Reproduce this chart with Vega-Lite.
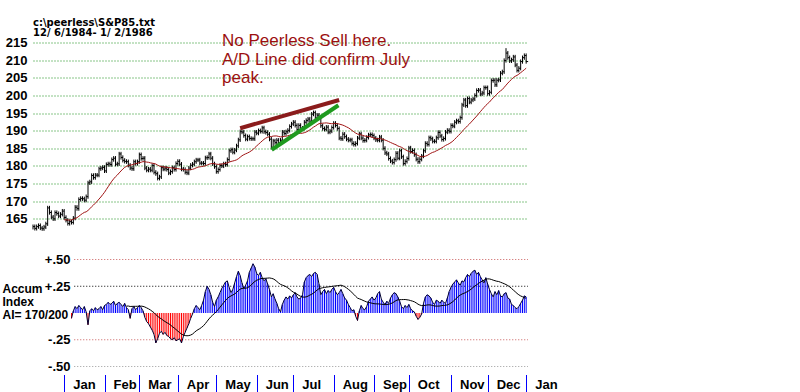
{"$schema":"https://vega.github.io/schema/vega-lite/v6.json","background":"white","padding":{"left":2,"top":17.5,"right":0,"bottom":0},"spacing":23,"bounds":"flush",
"config":{"view":{"stroke":null},"font":"Liberation Sans","axis":{"labelFont":"Liberation Sans","labelFontWeight":"bold","labelFontSize":13,"labelColor":"#000","titleFont":"Liberation Sans"}},
"datasets":{
"d":[{"i":0,"h":163.4,"l":162.0,"c":162.8},{"i":1,"h":163.4,"l":161.7,"c":162.3},{"i":2,"h":163.4,"l":161.7,"c":162.8},{"i":3,"h":163.7,"l":162.2,"c":163.1},{"i":4,"h":163.7,"l":161.8,"c":162.4},{"i":5,"h":163.0,"l":161.6,"c":162.2},{"i":6,"h":163.3,"l":161.6,"c":162.7},{"i":7,"h":164.2,"l":162.1,"c":163.6},{"i":8,"h":168.7,"l":163.0,"c":168.1},{"i":9,"h":168.7,"l":166.2,"c":166.8},{"i":10,"h":167.4,"l":164.9,"c":165.5},{"i":11,"h":166.1,"l":164.4,"c":165.0},{"i":12,"h":167.4,"l":164.4,"c":166.8},{"i":13,"h":167.4,"l":165.9,"c":166.5},{"i":14,"h":167.1,"l":165.2,"c":165.8},{"i":15,"h":166.9,"l":165.2,"c":166.3},{"i":16,"h":167.8,"l":165.7,"c":167.2},{"i":17,"h":167.8,"l":164.8,"c":165.4},{"i":18,"h":166.0,"l":164.0,"c":164.6},{"i":19,"h":165.2,"l":163.1,"c":163.7},{"i":20,"h":164.8,"l":163.1,"c":164.2},
{"i":21,"h":164.8,"l":163.4,"c":164.0,"a":-0.05},{"i":22,"h":165.8,"l":163.4,"c":165.2,"a":0.02},{"i":23,"h":168.9,"l":164.6,"c":168.3,"a":0.06},{"i":24,"h":168.9,"l":167.3,"c":167.9,"a":0.04},{"i":25,"h":171.1,"l":167.3,"c":170.5,"a":0.07},{"i":26,"h":171.4,"l":169.9,"c":170.8,"a":0.05},{"i":27,"h":171.4,"l":170.1,"c":170.7,"a":0.03},{"i":28,"h":171.3,"l":169.7,"c":170.3,"a":0.06},{"i":29,"h":171.9,"l":169.7,"c":171.3,"a":0.01},{"i":30,"h":175.8,"l":170.7,"c":175.2,"a":-0.11},
{"i":31,"h":176.1,"l":174.6,"c":175.5,"a":0.02},{"i":32,"h":177.9,"l":174.9,"c":177.3,"a":0.04},{"i":33,"h":177.9,"l":176.1,"c":176.7,"a":0.02},{"i":34,"h":178.0,"l":176.1,"c":177.4,"a":0.05},{"i":35,"h":178.0,"l":176.8,"c":177.4,"a":0.03},{"i":36,"h":179.8,"l":176.8,"c":179.2,"a":0.04},{"i":37,"h":180.0,"l":178.6,"c":179.4,"a":0.06},{"i":38,"h":180.2,"l":178.8,"c":179.6,"a":0.03},{"i":39,"h":180.2,"l":178.0,"c":178.6,"a":0.07},{"i":40,"h":181.0,"l":178.0,"c":180.4,"a":0.08},
{"i":41,"h":181.2,"l":179.8,"c":180.6,"a":0.10},{"i":42,"h":181.2,"l":179.8,"c":180.4,"a":0.08},{"i":43,"h":182.4,"l":179.8,"c":181.8,"a":0.09},{"i":44,"h":182.8,"l":181.2,"c":182.2,"a":0.11},{"i":45,"h":182.8,"l":179.9,"c":180.5,"a":0.07},{"i":46,"h":181.2,"l":179.9,"c":180.6,"a":0.09},{"i":47,"h":184.0,"l":180.0,"c":183.4,"a":0.10},{"i":48,"h":184.0,"l":181.8,"c":182.4,"a":0.08},{"i":49,"h":183.0,"l":181.0,"c":181.6,"a":0.06},{"i":50,"h":182.2,"l":180.7,"c":181.3,"a":0.09},
{"i":51,"h":181.9,"l":180.6,"c":181.2,"a":0.05},{"i":52,"h":181.8,"l":179.6,"c":180.2,"a":0.03},{"i":53,"h":180.8,"l":178.8,"c":179.4,"a":-0.05},{"i":54,"h":180.0,"l":178.6,"c":179.2,"a":0.04},{"i":55,"h":181.8,"l":178.6,"c":181.2,"a":0.06},{"i":56,"h":181.8,"l":180.1,"c":180.7,"a":0.03},{"i":57,"h":181.8,"l":180.1,"c":181.2,"a":0.05},{"i":58,"h":183.8,"l":180.6,"c":183.2,"a":0.07},{"i":59,"h":183.8,"l":181.5,"c":182.1,"a":0.05},{"i":60,"h":182.8,"l":181.5,"c":182.2,"a":0.02},
{"i":61,"h":182.8,"l":178.8,"c":179.4,"a":-0.04},{"i":62,"h":180.0,"l":178.2,"c":178.8,"a":-0.08},{"i":63,"h":179.7,"l":178.2,"c":179.1,"a":-0.10},{"i":64,"h":179.7,"l":178.2,"c":178.8,"a":-0.13},{"i":65,"h":180.7,"l":178.2,"c":180.1,"a":-0.16},{"i":66,"h":180.7,"l":177.6,"c":178.2,"a":-0.20},{"i":67,"h":178.8,"l":177.2,"c":177.8,"a":-0.28},{"i":68,"h":178.4,"l":175.9,"c":176.5,"a":-0.24},{"i":69,"h":177.5,"l":175.9,"c":176.9,"a":-0.19},{"i":70,"h":180.1,"l":176.3,"c":179.5,"a":-0.17},
{"i":71,"h":180.1,"l":178.5,"c":179.1,"a":-0.20},{"i":72,"h":180.0,"l":178.5,"c":179.4,"a":-0.18},{"i":73,"h":180.0,"l":178.4,"c":179.0,"a":-0.21},{"i":74,"h":179.6,"l":177.4,"c":178.0,"a":-0.22},{"i":75,"h":179.0,"l":177.4,"c":178.4,"a":-0.24},{"i":76,"h":180.1,"l":177.8,"c":179.5,"a":-0.25},{"i":77,"h":180.1,"l":178.4,"c":179.0,"a":-0.23},{"i":78,"h":181.3,"l":178.4,"c":180.7,"a":-0.26},{"i":79,"h":181.9,"l":180.1,"c":181.3,"a":-0.25},{"i":80,"h":181.9,"l":179.9,"c":180.5,"a":-0.24},
{"i":81,"h":181.1,"l":178.5,"c":179.1,"a":-0.28},{"i":82,"h":179.7,"l":178.4,"c":179.0,"a":-0.22},{"i":83,"h":179.6,"l":177.6,"c":178.2,"a":-0.18},{"i":84,"h":178.8,"l":177.4,"c":178.0,"a":-0.14},{"i":85,"h":180.0,"l":177.4,"c":179.4,"a":-0.10},{"i":86,"h":180.8,"l":178.8,"c":180.2,"a":-0.05},{"i":87,"h":181.1,"l":179.6,"c":180.5,"a":-0.01},{"i":88,"h":181.8,"l":179.9,"c":181.2,"a":0.04},{"i":89,"h":182.3,"l":180.6,"c":181.7,"a":0.07},{"i":90,"h":182.3,"l":181.1,"c":181.7,"a":0.05},
{"i":91,"h":182.3,"l":180.2,"c":180.8,"a":0.03},{"i":92,"h":181.4,"l":180.2,"c":180.8,"a":0.07},{"i":93,"h":181.4,"l":180.1,"c":180.7,"a":0.12},{"i":94,"h":182.9,"l":180.1,"c":182.3,"a":0.20},{"i":95,"h":183.0,"l":181.7,"c":182.4,"a":0.25},{"i":96,"h":184.0,"l":181.8,"c":183.4,"a":0.22},{"i":97,"h":184.0,"l":181.6,"c":182.2,"a":0.17},{"i":98,"h":182.8,"l":180.0,"c":180.6,"a":0.10},{"i":99,"h":181.2,"l":179.2,"c":179.8,"a":0.06},{"i":100,"h":180.4,"l":177.8,"c":178.4,"a":0.12},
{"i":101,"h":179.6,"l":177.8,"c":179.0,"a":0.15},{"i":102,"h":180.7,"l":178.4,"c":180.1,"a":0.19},{"i":103,"h":180.7,"l":179.4,"c":180.0,"a":0.23},{"i":104,"h":181.2,"l":179.4,"c":180.6,"a":0.26},{"i":105,"h":181.2,"l":179.8,"c":180.4,"a":0.29},{"i":106,"h":182.4,"l":179.8,"c":181.8,"a":0.30},{"i":107,"h":184.9,"l":181.2,"c":184.3,"a":0.24},{"i":108,"h":185.2,"l":183.7,"c":184.6,"a":0.19},{"i":109,"h":185.2,"l":183.3,"c":183.9,"a":0.22},{"i":110,"h":185.1,"l":183.3,"c":184.5,"a":0.28},
{"i":111,"h":186.3,"l":183.9,"c":185.7,"a":0.34},{"i":112,"h":188.0,"l":185.1,"c":187.4,"a":0.39},{"i":113,"h":190.3,"l":186.8,"c":189.7,"a":0.35},{"i":114,"h":190.3,"l":189.0,"c":189.6,"a":0.28},{"i":115,"h":190.2,"l":188.0,"c":188.6,"a":0.23},{"i":116,"h":189.2,"l":187.0,"c":187.6,"a":0.26},{"i":117,"h":188.9,"l":187.0,"c":188.3,"a":0.30},{"i":118,"h":188.9,"l":187.2,"c":187.8,"a":0.38},{"i":119,"h":188.4,"l":187.1,"c":187.7,"a":0.42},{"i":120,"h":188.3,"l":187.1,"c":187.7,"a":0.46},
{"i":121,"h":190.2,"l":187.1,"c":189.6,"a":0.43},{"i":122,"h":190.2,"l":188.7,"c":189.3,"a":0.37},{"i":123,"h":190.6,"l":188.7,"c":190.0,"a":0.35},{"i":124,"h":190.6,"l":189.2,"c":189.8,"a":0.38},{"i":125,"h":191.4,"l":189.2,"c":190.8,"a":0.33},{"i":126,"h":191.4,"l":189.1,"c":189.7,"a":0.30},{"i":127,"h":190.3,"l":188.9,"c":189.5,"a":0.32},{"i":128,"h":190.1,"l":188.4,"c":189.0,"a":0.27},{"i":129,"h":189.6,"l":187.0,"c":187.6,"a":0.22},{"i":130,"h":188.2,"l":184.7,"c":185.3,"a":0.15},
{"i":131,"h":187.7,"l":184.7,"c":187.1,"a":0.18},{"i":132,"h":187.7,"l":186.0,"c":186.6,"a":0.13},{"i":133,"h":187.9,"l":186.0,"c":187.3,"a":0.09},{"i":134,"h":187.9,"l":186.0,"c":186.6,"a":0.04},{"i":135,"h":187.9,"l":186.0,"c":187.3,"a":0.01},{"i":136,"h":190.2,"l":186.7,"c":189.6,"a":0.08},{"i":137,"h":190.2,"l":188.6,"c":189.2,"a":0.12},{"i":138,"h":190.3,"l":188.6,"c":189.7,"a":0.15},{"i":139,"h":190.7,"l":189.1,"c":190.1,"a":0.13},{"i":140,"h":191.8,"l":189.5,"c":191.2,"a":0.16},
{"i":141,"h":192.5,"l":190.6,"c":191.9,"a":0.14},{"i":142,"h":193.0,"l":191.3,"c":192.4,"a":0.17},{"i":143,"h":193.0,"l":190.9,"c":191.5,"a":0.19},{"i":144,"h":192.1,"l":189.7,"c":190.3,"a":0.15},{"i":145,"h":192.1,"l":189.7,"c":191.5,"a":0.13},{"i":146,"h":192.1,"l":190.1,"c":190.7,"a":0.14},{"i":147,"h":191.3,"l":190.1,"c":190.7,"a":0.17},{"i":148,"h":193.0,"l":190.1,"c":192.4,"a":0.29},{"i":149,"h":193.5,"l":191.8,"c":192.9,"a":0.33},{"i":150,"h":193.9,"l":192.3,"c":193.3,"a":0.35},
{"i":151,"h":193.9,"l":192.1,"c":192.7,"a":0.36},{"i":152,"h":195.3,"l":192.1,"c":194.7,"a":0.34},{"i":153,"h":195.7,"l":194.1,"c":195.1,"a":0.37},{"i":154,"h":195.7,"l":193.0,"c":193.6,"a":0.38},{"i":155,"h":195.0,"l":193.0,"c":194.4,"a":0.36},{"i":156,"h":195.0,"l":193.1,"c":193.7,"a":0.27},{"i":157,"h":194.3,"l":190.8,"c":191.4,"a":0.17},{"i":158,"h":192.0,"l":190.0,"c":190.6,"a":0.20},{"i":159,"h":191.2,"l":189.8,"c":190.4,"a":0.22},{"i":160,"h":191.6,"l":189.8,"c":191.0,"a":0.18},
{"i":161,"h":191.6,"l":189.0,"c":189.6,"a":0.21},{"i":162,"h":190.5,"l":189.0,"c":189.9,"a":0.19},{"i":163,"h":191.5,"l":189.3,"c":190.9,"a":0.22},{"i":164,"h":192.7,"l":190.3,"c":192.1,"a":0.24},{"i":165,"h":192.7,"l":190.9,"c":191.5,"a":0.20},{"i":166,"h":192.1,"l":190.0,"c":190.6,"a":0.17},{"i":167,"h":191.2,"l":187.3,"c":187.9,"a":0.19},{"i":168,"h":188.5,"l":187.1,"c":187.7,"a":0.22},{"i":169,"h":189.6,"l":187.1,"c":189.0,"a":0.18},{"i":170,"h":189.6,"l":187.7,"c":188.3,"a":0.14},
{"i":171,"h":188.9,"l":187.0,"c":187.6,"a":0.12},{"i":172,"h":188.2,"l":186.7,"c":187.3,"a":0.08},{"i":173,"h":188.0,"l":186.7,"c":187.4,"a":0.05},{"i":174,"h":188.0,"l":185.8,"c":186.4,"a":0.02},{"i":175,"h":187.0,"l":185.5,"c":186.1,"a":0.03},{"i":176,"h":187.0,"l":185.5,"c":186.4,"a":-0.03},{"i":177,"h":188.5,"l":185.8,"c":187.9,"a":-0.07},{"i":178,"h":189.7,"l":187.3,"c":189.1,"a":0.02},{"i":179,"h":189.7,"l":187.3,"c":187.9,"a":0.07},{"i":180,"h":188.5,"l":186.6,"c":187.2,"a":0.04},
{"i":181,"h":187.9,"l":186.6,"c":187.3,"a":0.03},{"i":182,"h":188.7,"l":186.7,"c":188.1,"a":0.06},{"i":183,"h":189.4,"l":187.5,"c":188.8,"a":0.11},{"i":184,"h":189.5,"l":188.2,"c":188.9,"a":0.13},{"i":185,"h":189.5,"l":188.0,"c":188.6,"a":0.15},{"i":186,"h":189.2,"l":187.3,"c":187.9,"a":0.12},{"i":187,"h":188.5,"l":186.8,"c":187.4,"a":0.14},{"i":188,"h":188.0,"l":186.7,"c":187.3,"a":0.18},{"i":189,"h":188.8,"l":186.7,"c":188.2,"a":0.20},{"i":190,"h":188.8,"l":186.7,"c":187.3,"a":0.13},
{"i":191,"h":187.9,"l":184.4,"c":185.0,"a":0.10},{"i":192,"h":185.6,"l":183.1,"c":183.7,"a":0.08},{"i":193,"h":184.3,"l":182.8,"c":183.4,"a":0.11},{"i":194,"h":184.0,"l":181.5,"c":182.1,"a":0.09},{"i":195,"h":182.7,"l":180.8,"c":181.4,"a":0.14},{"i":196,"h":182.0,"l":180.4,"c":181.0,"a":0.17},{"i":197,"h":182.4,"l":180.4,"c":181.8,"a":0.19},{"i":198,"h":184.2,"l":181.2,"c":183.6,"a":0.18},{"i":199,"h":184.2,"l":181.6,"c":182.2,"a":0.15},{"i":200,"h":184.9,"l":181.6,"c":184.3,"a":0.11},
{"i":201,"h":184.9,"l":182.0,"c":182.6,"a":0.06},{"i":202,"h":183.2,"l":180.1,"c":180.7,"a":0.04},{"i":203,"h":181.9,"l":180.1,"c":181.3,"a":0.07},{"i":204,"h":182.7,"l":180.7,"c":182.1,"a":0.05},{"i":205,"h":185.7,"l":181.5,"c":185.1,"a":0.08},{"i":206,"h":185.7,"l":183.5,"c":184.1,"a":0.04},{"i":207,"h":185.0,"l":183.5,"c":184.4,"a":0.02},{"i":208,"h":185.0,"l":182.6,"c":183.2,"a":0.01},{"i":209,"h":183.8,"l":181.3,"c":181.9,"a":-0.03},{"i":210,"h":182.5,"l":180.6,"c":181.2,"a":-0.06},
{"i":211,"h":182.5,"l":180.6,"c":181.9,"a":-0.04},{"i":212,"h":183.4,"l":181.3,"c":182.8,"a":-0.01},{"i":213,"h":184.9,"l":182.2,"c":184.3,"a":0.09},{"i":214,"h":187.0,"l":183.7,"c":186.4,"a":0.15},{"i":215,"h":187.0,"l":185.5,"c":186.1,"a":0.17},{"i":216,"h":188.6,"l":185.5,"c":188.0,"a":0.16},{"i":217,"h":188.6,"l":187.1,"c":187.7,"a":0.14},{"i":218,"h":188.3,"l":186.4,"c":187.0,"a":0.10},{"i":219,"h":187.6,"l":186.4,"c":187.0,"a":0.08},{"i":220,"h":188.6,"l":186.4,"c":188.0,"a":0.12},
{"i":221,"h":190.1,"l":187.4,"c":189.5,"a":0.11},{"i":222,"h":190.1,"l":187.9,"c":188.5,"a":0.09},{"i":223,"h":189.1,"l":186.9,"c":187.5,"a":0.12},{"i":224,"h":188.4,"l":186.9,"c":187.8,"a":0.10},{"i":225,"h":190.2,"l":187.2,"c":189.6,"a":0.09},{"i":226,"h":190.7,"l":189.0,"c":190.1,"a":0.14},{"i":227,"h":190.7,"l":189.2,"c":189.8,"a":0.20},{"i":228,"h":192.1,"l":189.2,"c":191.5,"a":0.24},{"i":229,"h":192.1,"l":190.7,"c":191.3,"a":0.27},{"i":230,"h":193.0,"l":190.7,"c":192.4,"a":0.29},
{"i":231,"h":193.4,"l":191.8,"c":192.8,"a":0.31},{"i":232,"h":193.4,"l":192.0,"c":192.6,"a":0.28},{"i":233,"h":194.3,"l":192.0,"c":193.7,"a":0.26},{"i":234,"h":197.9,"l":193.1,"c":197.3,"a":0.30},{"i":235,"h":199.3,"l":196.7,"c":198.7,"a":0.29},{"i":236,"h":199.3,"l":196.5,"c":197.1,"a":0.33},{"i":237,"h":199.7,"l":196.5,"c":199.1,"a":0.36},{"i":238,"h":199.7,"l":197.5,"c":198.1,"a":0.34},{"i":239,"h":199.3,"l":197.5,"c":198.7,"a":0.37},{"i":240,"h":199.6,"l":198.1,"c":199.0,"a":0.39},
{"i":241,"h":200.6,"l":198.4,"c":200.0,"a":0.40},{"i":242,"h":202.0,"l":199.4,"c":201.4,"a":0.36},{"i":243,"h":202.1,"l":200.8,"c":201.5,"a":0.38},{"i":244,"h":202.1,"l":199.8,"c":200.4,"a":0.34},{"i":245,"h":201.3,"l":199.8,"c":200.7,"a":0.31},{"i":246,"h":202.8,"l":200.1,"c":202.2,"a":0.28},{"i":247,"h":202.8,"l":201.6,"c":202.2,"a":0.33},{"i":248,"h":202.8,"l":199.9,"c":200.5,"a":0.27},{"i":249,"h":201.5,"l":199.9,"c":200.9,"a":0.22},{"i":250,"h":204.8,"l":200.3,"c":204.2,"a":0.18},
{"i":251,"h":204.9,"l":203.6,"c":204.3,"a":0.15},{"i":252,"h":204.9,"l":202.4,"c":203.0,"a":0.20},{"i":253,"h":204.9,"l":202.4,"c":204.3,"a":0.17},{"i":254,"h":205.0,"l":203.7,"c":204.4,"a":0.21},{"i":255,"h":206.9,"l":203.8,"c":206.3,"a":0.16},{"i":256,"h":207.3,"l":205.7,"c":206.7,"a":0.15},{"i":257,"h":210.5,"l":206.1,"c":209.9,"a":0.18},{"i":258,"h":213.4,"l":209.3,"c":212.0,"a":0.19},{"i":259,"h":212.6,"l":210.1,"c":210.7,"a":0.14},{"i":260,"h":211.3,"l":209.2,"c":209.8,"a":0.13},
{"i":261,"h":210.7,"l":209.2,"c":210.1,"a":0.08},{"i":262,"h":211.5,"l":209.5,"c":210.9,"a":0.07},{"i":263,"h":211.5,"l":208.0,"c":208.6,"a":0.05},{"i":264,"h":209.2,"l":206.5,"c":207.1,"a":0.04},{"i":265,"h":208.3,"l":206.5,"c":207.7,"a":0.06},{"i":266,"h":210.2,"l":207.1,"c":209.6,"a":0.09},{"i":267,"h":211.3,"l":209.0,"c":210.7,"a":0.12},{"i":268,"h":211.9,"l":210.1,"c":211.3,"a":0.16},{"i":269,"h":211.9,"l":209.0,"c":209.6,"a":0.15}],
"lines":[{"k":"ad","i":113,"p":190.7},{"k":"ad","i":167,"p":198.7},{"k":"tr","i":130.2,"p":184.6},{"k":"tr","i":166.6,"p":197.2}],
"notes":[{"t":["No Peerless Sell here.","A/D Line did confirm July","peak."],"i":103.1,"p":214.0}],
"head":[{"t":"c:\\peerless\\S&P85.txt","i":0,"p":219.6},{"t":"\u00a012/ 6/1984- 1/ 2/1986","i":0,"p":216.9}],
"agrid":[{"v":0.5,"k":"r"},{"v":0.25,"k":"b"},{"v":-0.25,"k":"r"},{"v":-0.5,"k":"g"}]
},
"vconcat":[
{"width":495,"height":194,
"resolve":{"axis":{"x":"independent","y":"independent"}},
"layer":[
{"data":{"name":"d"},"mark":{"type":"rule","color":"#000","strokeWidth":1},
"encoding":{"x":{"field":"i","type":"quantitative","scale":{"domain":[0,270],"nice":false,"zero":false},"axis":null},
"y":{"field":"h","type":"quantitative","scale":{"domain":[160,215],"nice":false,"zero":false},"axis":{"values":[165,170,175,180,185,190,195,200,205,210,215],"grid":true,"gridColor":"#118a11","gridDash":[1,2],"gridWidth":1,"domain":false,"ticks":false,"labelPadding":6,"labelOverlap":false,"title":null}},
"y2":{"field":"l"}}},
{"data":{"name":"d"},"mark":{"type":"rule","color":"#000","strokeWidth":1,"x2Offset":2},
"encoding":{"x":{"field":"i","type":"quantitative","axis":null},"x2":{"field":"i"},"y":{"field":"c","type":"quantitative","axis":null}}},
{"data":{"name":"d"},"transform":[{"window":[{"op":"mean","field":"c","as":"ma"}],"frame":[-20,0],"sort":[{"field":"i"}]},{"filter":"datum.i >= 17"}],
"mark":{"type":"line","color":"#a01414","strokeWidth":1},
"encoding":{"x":{"field":"i","type":"quantitative","axis":null},"y":{"field":"ma","type":"quantitative","axis":null}}},
{"data":{"name":"lines"},"mark":{"type":"line","strokeWidth":4,"strokeCap":"butt"},
"encoding":{"x":{"field":"i","type":"quantitative","axis":null},"y":{"field":"p","type":"quantitative","axis":null},"detail":{"field":"k"},"color":{"condition":{"test":"datum.k == 'ad'","value":"#8b1c1c"},"value":"#1e9a1e"}}},
{"data":{"name":"notes"},"mark":{"type":"text","align":"left","baseline":"alphabetic","font":"Liberation Sans","fontSize":17,"lineHeight":18.5,"color":"#9b1010"},
"encoding":{"x":{"field":"i","type":"quantitative","axis":null},"y":{"field":"p","type":"quantitative","axis":null},"text":{"field":"t"}}},
{"data":{"name":"head"},"mark":{"type":"text","align":"left","baseline":"alphabetic","font":"DejaVu Sans","fontSize":10,"fontWeight":"bold","color":"#000"},
"encoding":{"x":{"field":"i","type":"quantitative","axis":null},"y":{"field":"p","type":"quantitative","axis":null},"text":{"field":"t"}}}
]},
{"width":495,"height":107,
"resolve":{"axis":{"x":"independent","y":"independent"}},
"layer":[
{"data":{"name":"agrid"},"mark":{"type":"rule","strokeDash":[1,2],"strokeWidth":1},
"encoding":{"x":{"datum":22.5,"type":"quantitative","scale":{"domain":[0,270],"nice":false,"zero":false},
"axis":{"values":[17,39,58,79,100,122,142,164,186,205,228,248,269],"labelExpr":"['Jan','Feb','Mar','Apr','May','Jun','Jul','Aug','Sep','Oct','Nov','Dec','Jan'][indexof([17,39,58,79,100,122,142,164,186,205,228,248,269], datum.value)]","domain":false,"grid":false,"ticks":true,"tickColor":"#0000ff","tickSize":17,"tickWidth":1,"offset":8,"labelAlign":"left","labelBaseline":"alphabetic","labelPadding":-3,"labelOffset":8.5,"labelFlush":false,"labelOverlap":false,"title":null}},
"x2":{"datum":270},
"y":{"field":"v","type":"quantitative","scale":{"domain":[-0.5,0.5],"nice":false,"zero":false},
"axis":{"values":[-0.5,-0.25,0.25,0.5],"labelExpr":"datum.value == 0.5 ? '+.50' : datum.value == 0.25 ? '+.25' : datum.value == -0.25 ? '-.25' : '-.50'","offset":-40,"domain":false,"ticks":false,"grid":false,"labelPadding":3,"labelOverlap":false,"title":["Accum","Index","AI= 170/200"],"titleAngle":0,"titleAlign":"left","titleBaseline":"alphabetic","titleX":-71,"titleY":33,"titleFontSize":12,"titleFontWeight":"bold","titleLineHeight":13,"titleColor":"#000"}},
"color":{"condition":[{"test":"datum.k == 'b'","value":"#000000"},{"test":"datum.k == 'g'","value":"#9a9a9a"}],"value":"#c85a5a"}}},
{"data":{"name":"d"},"transform":[{"filter":"isValid(datum.a)"}],"mark":{"type":"rule","strokeWidth":1},
"encoding":{"x":{"field":"i","type":"quantitative","axis":null},"y":{"field":"a","type":"quantitative","axis":null},"y2":{"datum":0},"color":{"condition":{"test":"datum.a < 0","value":"#ff0000"},"value":"#0000ff"}}},
{"data":{"name":"d"},"transform":[{"filter":"isValid(datum.a)"}],"mark":{"type":"line","color":"#000030","strokeWidth":1},
"encoding":{"x":{"field":"i","type":"quantitative","axis":null},"y":{"field":"a","type":"quantitative","axis":null}}},
{"data":{"name":"d"},"transform":[{"filter":"isValid(datum.a)"},{"window":[{"op":"mean","field":"a","as":"am"}],"frame":[-20,0],"sort":[{"field":"i"}]},{"filter":"datum.i >= 51"}],"mark":{"type":"line","color":"#000","strokeWidth":1},
"encoding":{"x":{"field":"i","type":"quantitative","axis":null},"y":{"field":"am","type":"quantitative","axis":null}}}
]}
]}
